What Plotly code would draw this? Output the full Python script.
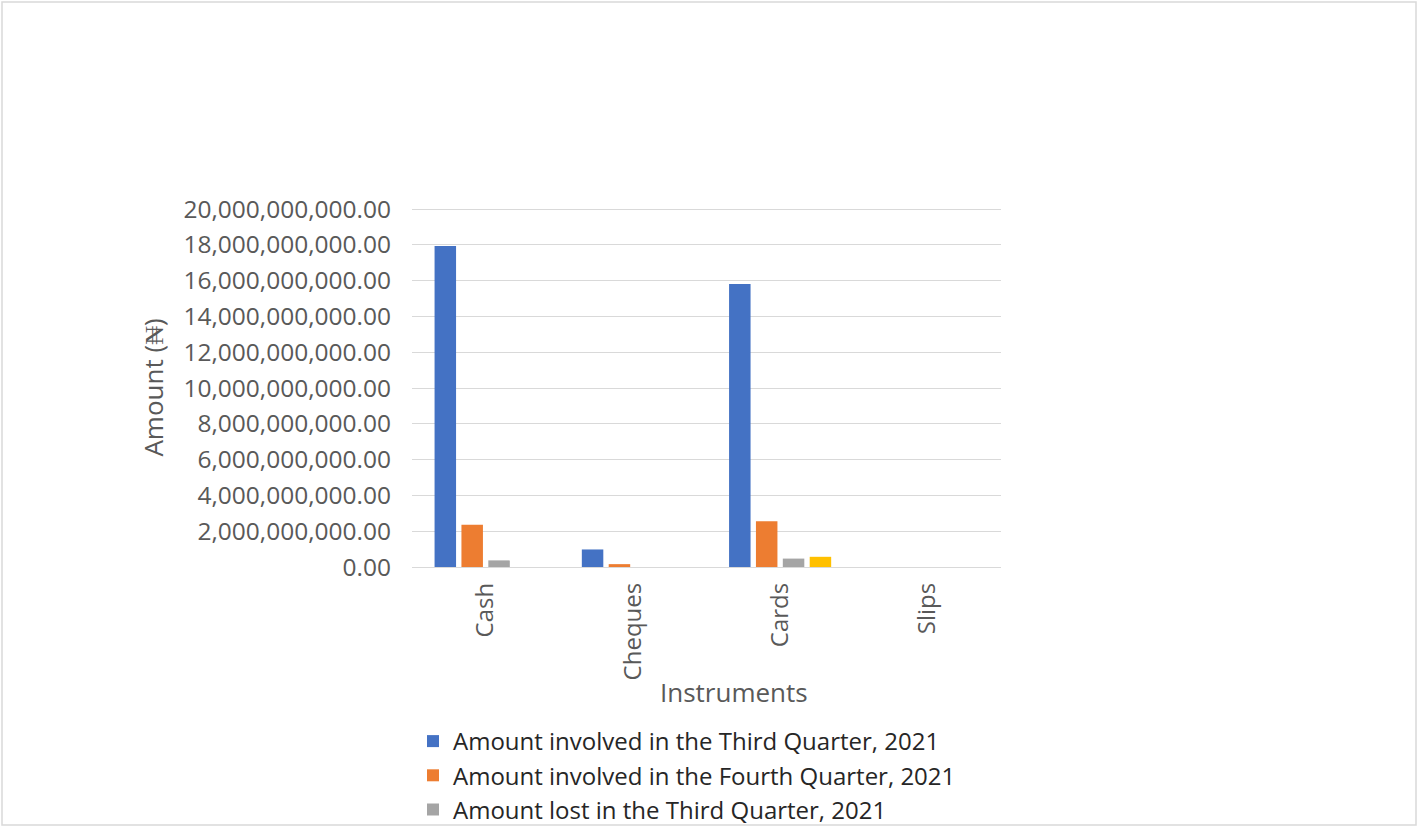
import plotly.graph_objects as go

# Fraud amounts by instrument (Naira)
instruments = ["Cash", "Cheques", "Cards", "Slips"]
third_q_involved = [17.94e9, 0.98e9, 15.82e9, 0.0]
fourth_q_involved = [2.36e9, 0.16e9, 2.56e9, 0.0]
third_q_lost = [0.37e9, 0.0, 0.47e9, 0.0]
fourth_q_lost = [0.0, 0.0, 0.57e9, 0.0]

series_names = [
    "Amount involved in the Third Quarter, 2021",
    "Amount involved in the Fourth Quarter, 2021",
    "Amount lost in the Third Quarter, 2021",
    "Amount lost in the Fourth Quarter, 2021",
]
series_values = [third_q_involved, fourth_q_involved, third_q_lost, fourth_q_lost]
series_colors = ["#4472C4", "#ED7D31", "#A5A5A5", "#FFC000"]
series_in_legend = [True, True, True, False]

y_ticks = [i * 2e9 for i in range(11)]
y_max = 20e9

W, H = 1419, 826
ML, MR, MT, MB = 412, 418, 208, 259
PW, PH = W - ML - MR, H - MT - MB

FONT = "Open Sans"
AXIS_GRAY = "#595959"

fig = go.Figure()
for name, vals, col, show in zip(series_names, series_values, series_colors, series_in_legend):
    fig.add_trace(go.Bar(
        x=instruments, y=vals, name=name, showlegend=show,
        marker=dict(color=col, line=dict(width=0)),
    ))

def px_to_paper_x(px):
    return (px - ML) / PW

def px_to_paper_y(py):
    return (H - MB - py) / PH

fig.update_layout(
    width=W, height=H,
    margin=dict(l=ML, r=MR, t=MT, b=MB, autoexpand=False),
    paper_bgcolor="white", plot_bgcolor="white",
    barmode="group", bargap=0.27, bargroupgap=0.2,
    font=dict(family=FONT, color=AXIS_GRAY),
    showlegend=True,
    legend=dict(
        x=px_to_paper_x(413), xanchor="left",
        y=px_to_paper_y(719), yanchor="top",
        font=dict(family=FONT, size=24, color="#262626"),
        itemwidth=30, tracegroupgap=0,
        bgcolor="rgba(0,0,0,0)",
    ),
    xaxis=dict(
        tickangle=-90,
        tickfont=dict(size=24, color=AXIS_GRAY),
        ticklabelstandoff=10,
        showgrid=False, showline=False, ticks="",
    ),
    yaxis=dict(
        range=[0, y_max * 1.003],
        tickvals=y_ticks, tickformat=",.2f",
        tickfont=dict(size=24.5, color=AXIS_GRAY),
        ticklabelstandoff=20,
        gridcolor="#D9D9D9", gridwidth=1,
        zeroline=True, zerolinecolor="#D9D9D9", zerolinewidth=1,
        showline=False, ticks="", ticklen=0,
        title=dict(text="Amount (₦)", font=dict(size=26, color=AXIS_GRAY), standoff=12),
    ),
    annotations=[dict(
        text="Instruments", xref="paper", yref="paper",
        x=px_to_paper_x(734), y=px_to_paper_y(692),
        xanchor="center", yanchor="middle", showarrow=False,
        font=dict(family=FONT, size=26, color=AXIS_GRAY),
    )],
    shapes=[dict(
        type="rect", xref="paper", yref="paper",
        x0=px_to_paper_x(2), x1=px_to_paper_x(1416),
        y0=px_to_paper_y(825), y1=px_to_paper_y(2),
        line=dict(color="#D9D9D9", width=1.5), fillcolor="rgba(0,0,0,0)",
        layer="below",
    )],
)

fig.write_html("out.html")
